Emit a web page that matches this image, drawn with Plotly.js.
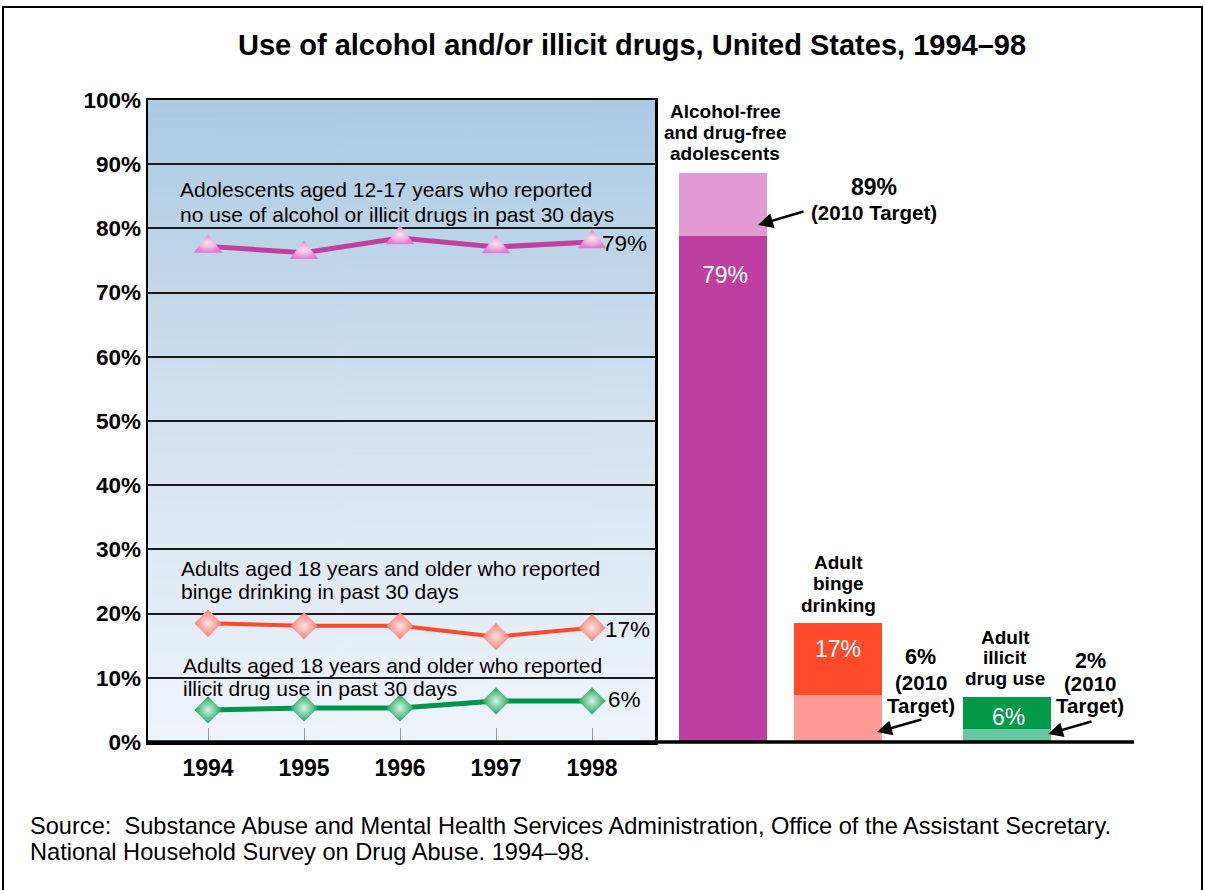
<!DOCTYPE html>
<html>
<head>
<meta charset="utf-8">
<script src="https://cdn.plot.ly/plotly-3.0.1.min.js"></script>
<style>
  html, body { margin: 0; padding: 0; background: #ffffff; }
  #chart { width: 1205px; height: 890px; }
</style>
</head>
<body>
<div id="chart"></div>
<script>
// ---------------- DATA ----------------
const years = ['1994', '1995', '1996', '1997', '1998'];
const adolescentNoUse = [77.2, 76.2, 78.5, 77.1, 77.9];
const adultBinge = [18.5, 18.1, 18.1, 16.4, 17.8];
const adultIllicit = [5.0, 5.3, 5.3, 6.4, 6.4];
const seriesEndLabels = ['79%', '17%', '6%'];
const seriesDescriptions = [
  ['Adolescents aged 12-17 years who reported', 'no use of alcohol or illicit drugs in past 30 days'],
  ['Adults aged 18 years and older who reported', 'binge drinking in past 30 days'],
  ['Adults aged 18 years and older who reported', 'illicit drug use in past 30 days']
];
const barCategories = [
  ['Alcohol-free', 'and drug-free', 'adolescents'],
  ['Adult', 'binge', 'drinking'],
  ['Adult', 'illicit', 'drug use']
];
const barCurrent = [78.8, 18.5, 7.0];
const barTarget = [88.7, 7.3, 2.0];
const barCurrentLabels = ['79%', '17%', '6%'];
const barTargetLabels = ['89%', '6%', '2%'];
const yTicks = [0, 10, 20, 30, 40, 50, 60, 70, 80, 90, 100];
const yTickLabels = yTicks.map(v => v + '%');
const titleText = 'Use of alcohol and/or illicit drugs, United States, 1994–98';
const sourceLines = [
  'Source:  Substance Abuse and Mental Health Services Administration, Office of the Assistant Secretary.',
  'National Household Survey on Drug Abuse. 1994–98.'
];

// ---------------- STYLE / LAYOUT ----------------
const W = 1205, H = 890;
const FONT = 'Liberation Sans, Arial, Helvetica, sans-serif';
const px = x => x / W;
const py = y => 1 - y / H;

const panel = { left: 148, right: 655, top: 100, bottom: 742 };
const lineColors = ['#c040a0', '#ff4a2a', '#00954a'];
const markerColors = ['#e27ccb', '#ff7b72', '#1aa45f'];
const markerCenters = ['#fde8f6', '#ffe3e1', '#d8f3e4'];
const markerSymbols = ['triangle-up', 'diamond', 'diamond'];
const markerSizes = [25, 21, 21];
const darkBar = ['#bf3fa0', '#ff4b2b', '#009a48'];
const lightBar = ['#e29ad2', '#ff9a96', '#66c9a0'];
const barSpans = [[679, 767], [794, 882], [963, 1051]];

// gradient background for the left panel
function gradientURL() {
  const c = document.createElement('canvas');
  c.width = 4; c.height = 512;
  const g = c.getContext('2d');
  const grd = g.createLinearGradient(0, 0, 0, 512);
  grd.addColorStop(0, '#abcae2');
  grd.addColorStop(0.5, '#d3e2ef');
  grd.addColorStop(1, '#eff4fa');
  g.fillStyle = grd;
  g.fillRect(0, 0, 4, 512);
  return c.toDataURL('image/png');
}

const traces = [];
const seriesValues = [adolescentNoUse, adultBinge, adultIllicit];
seriesValues.forEach((vals, i) => {
  traces.push({
    type: 'scatter', mode: 'lines+markers',
    x: years, y: vals, xaxis: 'x', yaxis: 'y',
    line: { color: lineColors[i], width: i === 1 ? 4 : 5 },
    marker: {
      symbol: markerSymbols[i], size: markerSizes[i],
      color: markerColors[i],
      gradient: { type: 'radial', color: markerCenters[i] },
      line: { width: 0 }
    },
    hoverinfo: 'skip', showlegend: false
  });
});

barCurrent.forEach((v, i) => {
  const xa = 'x' + (i + 2);
  traces.push({
    type: 'bar', x: [barCategories[i].join(' ')], y: [v], xaxis: xa, yaxis: 'y2',
    width: 1, marker: { color: darkBar[i], line: { width: 0 } },
    hoverinfo: 'skip', showlegend: false
  });
  const t = barTarget[i];
  const above = t > v;
  traces.push({
    type: 'bar', x: [barCategories[i].join(' ')], y: [above ? t - v : t], base: [above ? v : 0],
    xaxis: xa, yaxis: 'y2',
    width: 1, marker: { color: lightBar[i], line: { width: 0 } },
    hoverinfo: 'skip', showlegend: false
  });
});

const annotations = [];
function ann(x, y, text, size, opts) {
  annotations.push(Object.assign({
    xref: 'paper', yref: 'paper', x: px(x), y: py(y), text: text,
    showarrow: false, xanchor: 'center', yanchor: 'middle',
    font: { family: FONT, size: size, color: '#000000' }
  }, opts || {}));
}

// series descriptions
const descPos = [[178, 190, 24], [179, 568, 23], [181, 665, 23]];
seriesDescriptions.forEach((lines, i) => {
  lines.forEach((l, k) => ann(descPos[i][0], descPos[i][1] + k * descPos[i][2], l, 21, { xanchor: 'left' }));
});
// series end labels
const endPos = [[600, 243], [603, 629], [606, 699]];
seriesEndLabels.forEach((l, i) => ann(endPos[i][0], endPos[i][1], l, 22.5, { xanchor: 'left' }));

// bar category labels
const catPos = [[725, 112, 21], [838, 562, 21.5], [1005, 637, 20.5]];
barCategories.forEach((lines, i) => {
  lines.forEach((l, k) => ann(catPos[i][0], catPos[i][1] + k * catPos[i][2], l, 19,
    { font: { family: FONT, size: 19, color: '#000', weight: 'bold' } }));
});
// current values inside bars
const curPos = [[725, 275], [838, 649], [1008, 717]];
barCurrentLabels.forEach((l, i) => ann(curPos[i][0], curPos[i][1], l, 23,
  { font: { family: FONT, size: 23, color: '#ffffff' } }));

// target labels
const tgtPos = [
  [[874, 187, 23, l => l], [874, 212, 20.5, () => '(2010 Target)']],
  [[921, 657, 21.5, l => l], [921, 682, 20.5, () => '(2010'], [921, 705, 20.5, () => 'Target)']],
  [[1090, 661, 21.5, l => l], [1090, 683, 20.5, () => '(2010'], [1090, 705, 20.5, () => 'Target)']]
];
barTargetLabels.forEach((l, i) => {
  tgtPos[i].forEach(p => ann(p[0], p[1], p[3](l), p[2],
    { font: { family: FONT, size: p[2], color: '#000', weight: 'bold' } }));
});
// arrows to targets
const arrows = [[758, 225, 47, -14], [877, 732, 46, -13], [1048, 734, 45, -13]];
arrows.forEach(a => annotations.push({
  xref: 'paper', yref: 'paper', x: px(a[0]), y: py(a[1]), ax: a[2], ay: a[3],
  text: '', showarrow: true, arrowhead: 2, arrowsize: 1.2, arrowwidth: 2.5, arrowcolor: '#000'
}));

// source
sourceLines.forEach((l, k) => ann(28, 826 + k * 26, l, 23.6, { xanchor: 'left' }));

const shapes = [
  // outer frame
  { type: 'rect', xref: 'paper', yref: 'paper', x0: px(3), x1: px(1202), y0: -0.02, y1: py(7),
    line: { color: '#000', width: 2 }, fillcolor: 'rgba(0,0,0,0)', layer: 'above' },
  // baseline extending under bars
  { type: 'line', xref: 'paper', yref: 'paper', x0: px(panel.left), x1: px(1134), y0: py(742), y1: py(742),
    line: { color: '#000', width: 3.5 }, layer: 'above' }
];

const barDomainsAxes = {};
barSpans.forEach((s, i) => {
  barDomainsAxes['xaxis' + (i + 2)] = {
    domain: [px(s[0]), px(s[1])], anchor: 'y2', type: 'category',
    range: [-0.5, 0.5], visible: false, fixedrange: true
  };
});

const layout = Object.assign({
  width: W, height: H,
  margin: { l: 0, r: 0, t: 0, b: 0, pad: 0 },
  paper_bgcolor: '#ffffff', plot_bgcolor: 'rgba(0,0,0,0)',
  showlegend: false, barmode: 'overlay', bargap: 0,
  title: {
    text: titleText, x: px(632), y: py(45), xanchor: 'center', yanchor: 'middle',
    xref: 'paper', yref: 'paper',
    font: { family: FONT, size: 29, color: '#000', weight: 'bold' }
  },
  xaxis: {
    domain: [px(panel.left), px(panel.right)], anchor: 'y', type: 'category',
    range: [-0.625, 4.656], showgrid: false, zeroline: false,
    showline: true, linecolor: '#000', linewidth: 2.5, mirror: true,
    ticks: 'inside', ticklen: 14, tickwidth: 1, tickcolor: '#9a9a9a',
    tickfont: { family: FONT, size: 23, color: '#000', weight: 'bold' },
    ticklabelstandoff: 4
  },
  yaxis: {
    domain: [py(panel.bottom), py(panel.top)], anchor: 'x',
    range: [0, 100], tickvals: yTicks, ticktext: yTickLabels,
    showgrid: true, gridcolor: '#1a1a1a', gridwidth: 2, zeroline: false,
    showline: true, linecolor: '#000', linewidth: 2.5, mirror: true,
    ticks: '', tickfont: { family: FONT, size: 22.5, color: '#000', weight: 'bold' },
    ticklabelstandoff: 0
  },
  yaxis2: {
    domain: [py(panel.bottom), py(panel.top)], anchor: 'x2',
    range: [0, 100], visible: false, fixedrange: true
  },
  images: [{
    source: gradientURL(), xref: 'paper', yref: 'paper',
    x: px(panel.left), y: py(panel.top), sizex: px(panel.right) - px(panel.left),
    sizey: py(panel.top) - py(panel.bottom), xanchor: 'left', yanchor: 'top',
    sizing: 'stretch', layer: 'below'
  }],
  annotations: annotations,
  shapes: shapes
}, barDomainsAxes);

Plotly.newPlot('chart', traces, layout, { staticPlot: true, displayModeBar: false });
</script>
</body>
</html>
